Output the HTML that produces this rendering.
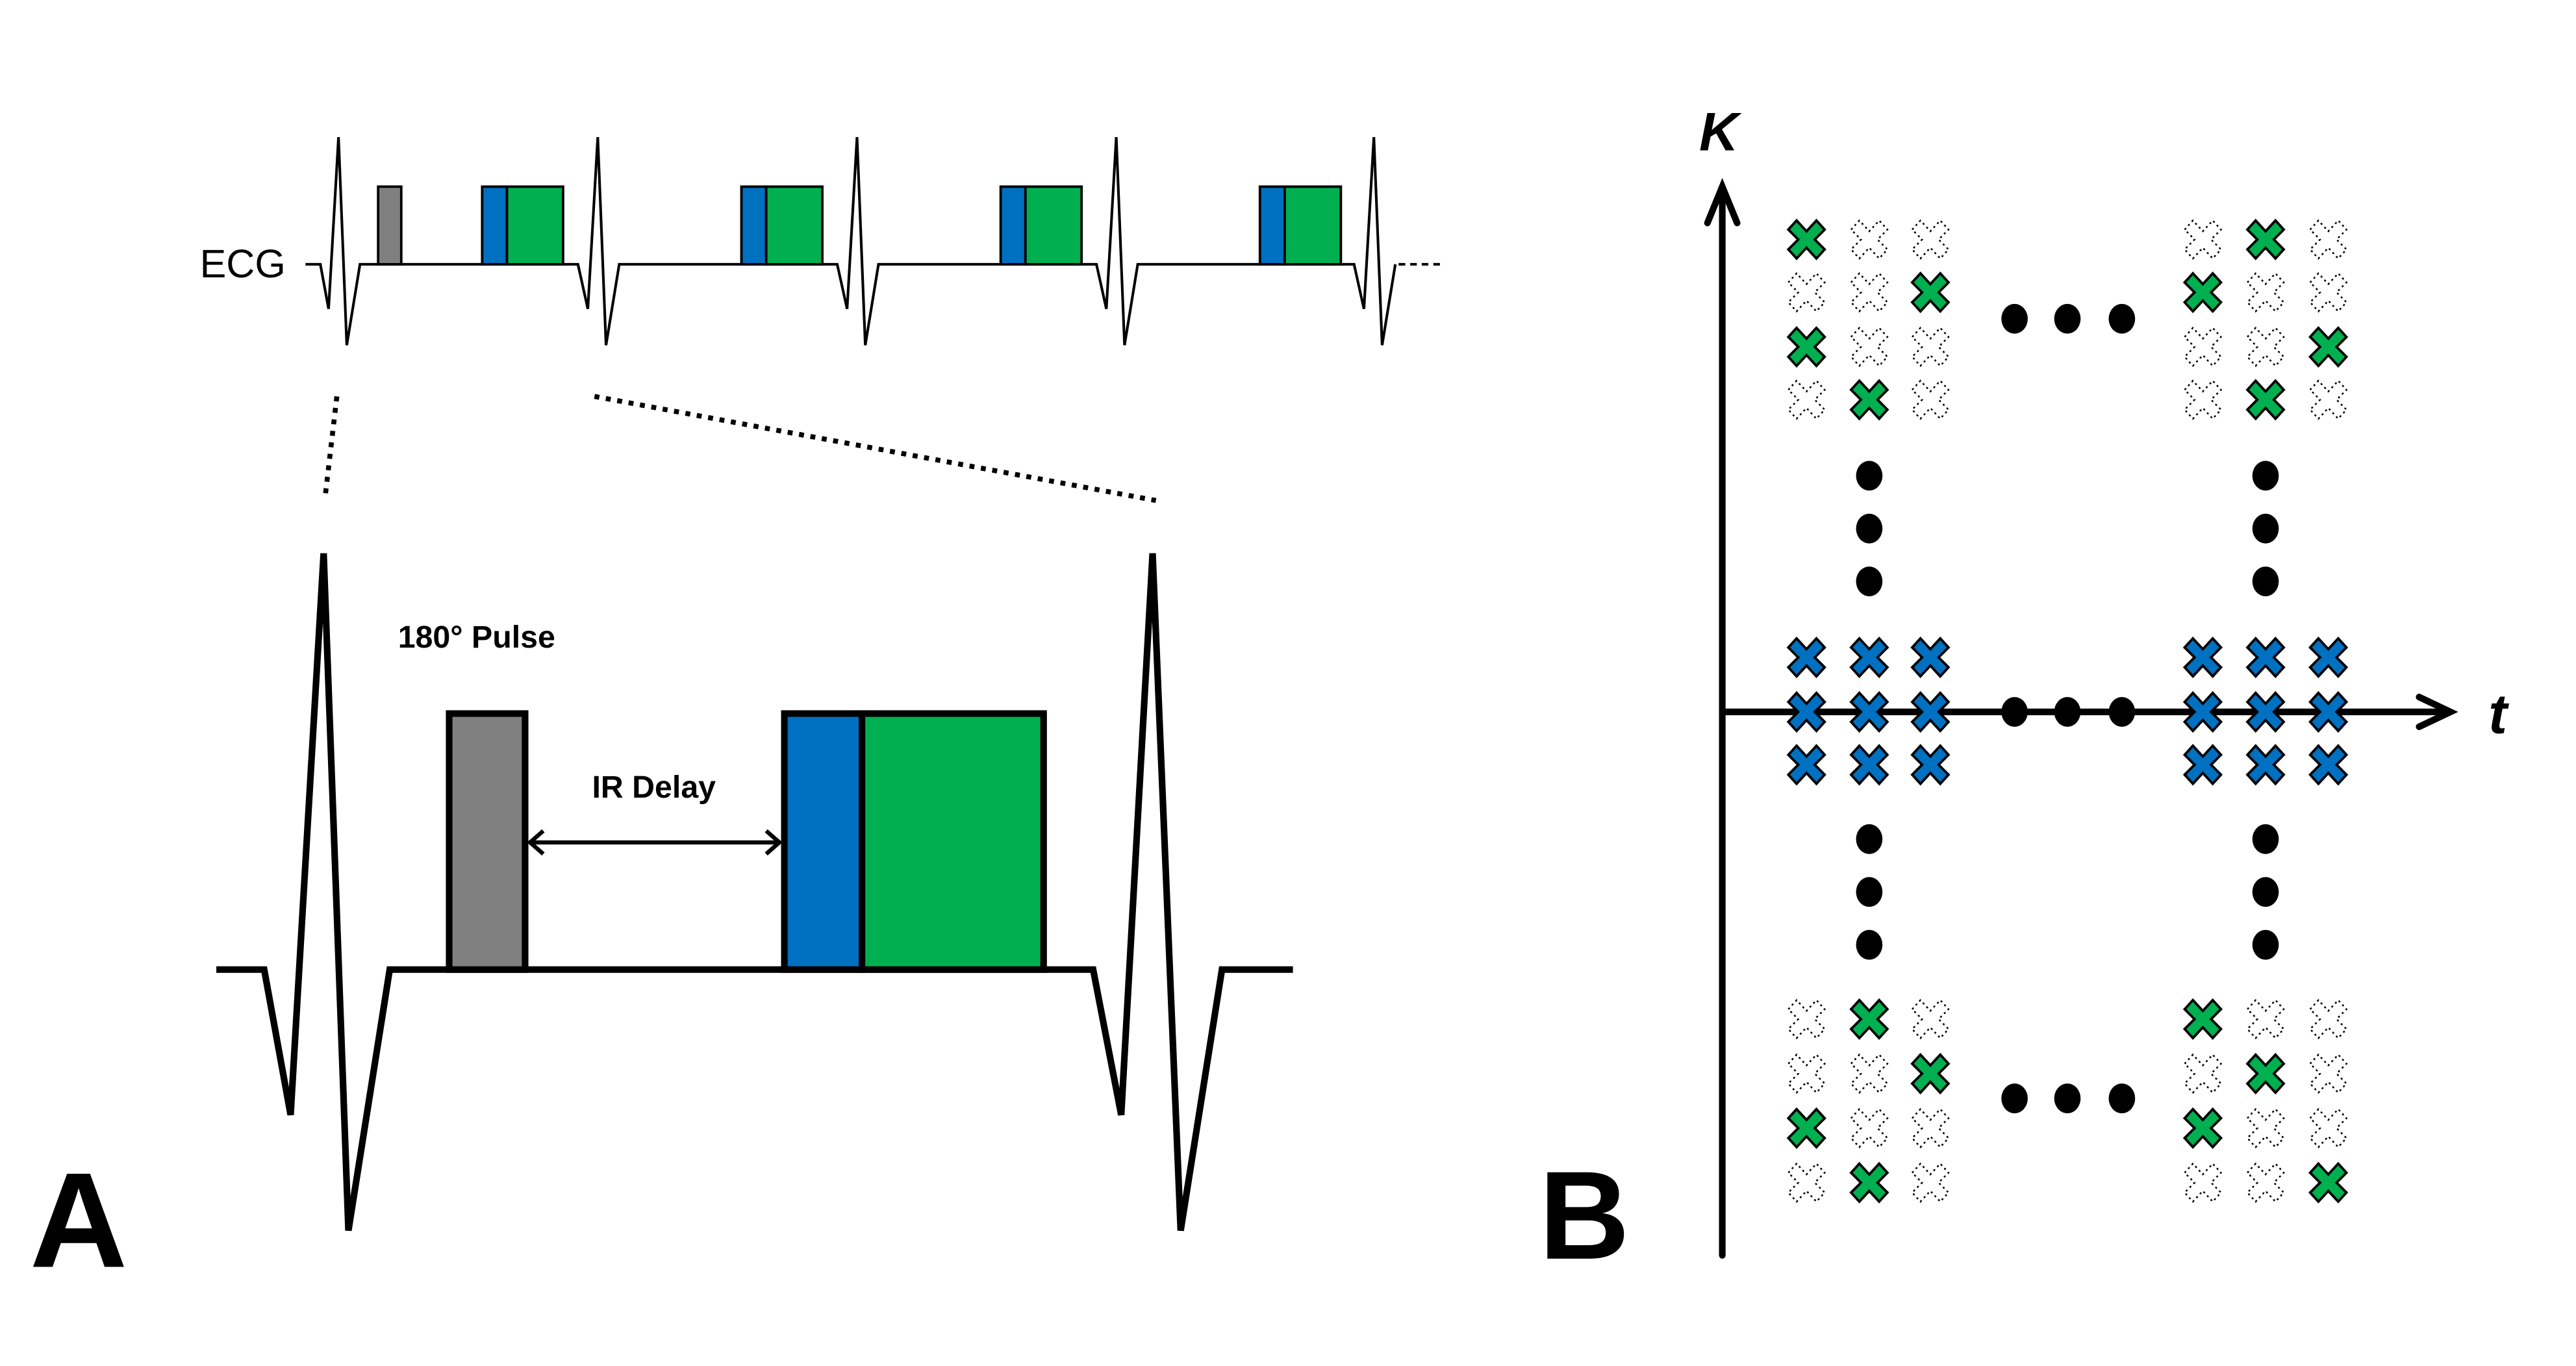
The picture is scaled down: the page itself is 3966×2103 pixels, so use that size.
<!DOCTYPE html>
<html><head><meta charset="utf-8"><style>html,body{margin:0;padding:0;background:#fff}svg{display:block}</style></head>
<body>
<svg width="3966" height="2103" viewBox="0 0 1560 827" preserveAspectRatio="none" xmlns="http://www.w3.org/2000/svg">
<defs>
<polygon id="x" points="-11,-6 -6,-11.5 0,-5 6,-11.5 11,-6 5,0 11,6 6,11.5 0,5 -6,11.5 -11,6 -5,0"/>
</defs>
<rect width="1560" height="827" fill="#fff"/>
<text x="121" y="168" font-family="Liberation Sans, sans-serif" font-size="24">ECG</text>
<g stroke="#000" stroke-width="1.6" fill="none">
<polyline points="185,160 194,160 199,187 205,83 210,209 218,160 350,160 356,187 362,83 367,209 375,160 507,160 513,187 519,83 524,209 532,160 664,160 670,187 676,83 681,209 689,160 820,160 826,187 832,83 837,209 845,160"/>
<line x1="847" y1="160" x2="873" y2="160" stroke-dasharray="4,3"/>
</g>
<g stroke="#000" stroke-width="1.5">
<rect x="229" y="113" width="14" height="47" fill="#808080"/>
<rect x="292" y="113" width="15" height="47" fill="#0070c0"/><rect x="307" y="113" width="34" height="47" fill="#00b050"/>
<rect x="449" y="113" width="15" height="47" fill="#0070c0"/><rect x="464" y="113" width="34" height="47" fill="#00b050"/>
<rect x="606" y="113" width="15" height="47" fill="#0070c0"/><rect x="621" y="113" width="34" height="47" fill="#00b050"/>
<rect x="763" y="113" width="15" height="47" fill="#0070c0"/><rect x="778" y="113" width="34" height="47" fill="#00b050"/>
</g>
<g stroke="#000" stroke-width="3" stroke-dasharray="3,4">
<line x1="204" y1="240" x2="197" y2="300"/>
<line x1="360" y1="240" x2="700" y2="303"/>
</g>
<polyline points="131,587 160,587 176,675 196,335 211,745 236,587 662,587 679,675 698,335 715,745 740,587 783,587" fill="none" stroke="#000" stroke-width="4"/>
<g stroke="#000" stroke-width="4">
<rect x="272" y="432" width="46" height="155" fill="#808080"/>
<rect x="475" y="432" width="47" height="155" fill="#0070c0"/>
<rect x="522" y="432" width="110" height="155" fill="#00b050"/>
</g>
<g stroke="#000" stroke-width="2.5" fill="none">
<line x1="321" y1="510" x2="472" y2="510"/>
<polyline points="329,503 321,510 329,517"/>
<polyline points="464,503 472,510 464,517"/>
</g>
<text x="241" y="392" font-family="Liberation Sans, sans-serif" font-size="19" font-weight="bold">180° Pulse</text>
<text x="396" y="483" text-anchor="middle" font-family="Liberation Sans, sans-serif" font-size="19" font-weight="bold">IR Delay</text>
<text x="18" y="767" font-family="Liberation Sans, sans-serif" font-size="82" font-weight="bold">A</text>
<text x="932" y="762" font-family="Liberation Sans, sans-serif" font-size="76" font-weight="bold">B</text>
<g stroke="#000" stroke-width="4" fill="none" stroke-linecap="round">
<line x1="1043" y1="760" x2="1043" y2="115"/>
<polyline points="1034,135 1043,113 1052,135"/>
<line x1="1043" y1="431" x2="1482" y2="431"/>
<polyline points="1465,422 1484,431 1465,440"/>
</g>
<text x="1029" y="91" font-family="Liberation Sans, sans-serif" font-size="33" font-weight="bold" font-style="italic">K</text>
<text x="1507" y="444" font-family="Liberation Sans, sans-serif" font-size="34" font-weight="bold" font-style="italic">t</text>
<g fill="#000">
<ellipse cx="1220" cy="193" rx="8" ry="9"/><ellipse cx="1252" cy="193" rx="8" ry="9"/><ellipse cx="1285" cy="193" rx="8" ry="9"/>
<ellipse cx="1220" cy="431" rx="8" ry="9"/><ellipse cx="1252" cy="431" rx="8" ry="9"/><ellipse cx="1285" cy="431" rx="8" ry="9"/>
<ellipse cx="1220" cy="665" rx="8" ry="9"/><ellipse cx="1252" cy="665" rx="8" ry="9"/><ellipse cx="1285" cy="665" rx="8" ry="9"/>
<ellipse cx="1132" cy="288" rx="8" ry="9"/><ellipse cx="1132" cy="320" rx="8" ry="9"/><ellipse cx="1132" cy="352" rx="8" ry="9"/>
<ellipse cx="1132" cy="508" rx="8" ry="9"/><ellipse cx="1132" cy="540" rx="8" ry="9"/><ellipse cx="1132" cy="572" rx="8" ry="9"/>
<ellipse cx="1372" cy="288" rx="8" ry="9"/><ellipse cx="1372" cy="320" rx="8" ry="9"/><ellipse cx="1372" cy="352" rx="8" ry="9"/>
<ellipse cx="1372" cy="508" rx="8" ry="9"/><ellipse cx="1372" cy="540" rx="8" ry="9"/><ellipse cx="1372" cy="572" rx="8" ry="9"/>
</g>
<g fill="#0070c0" stroke="#000" stroke-width="1.5">
<use href="#x" x="1094" y="398"/><use href="#x" x="1132" y="398"/><use href="#x" x="1169" y="398"/>
<use href="#x" x="1094" y="431"/><use href="#x" x="1132" y="431"/><use href="#x" x="1169" y="431"/>
<use href="#x" x="1094" y="463"/><use href="#x" x="1132" y="463"/><use href="#x" x="1169" y="463"/>
<use href="#x" x="1334" y="398"/><use href="#x" x="1372" y="398"/><use href="#x" x="1410" y="398"/>
<use href="#x" x="1334" y="431"/><use href="#x" x="1372" y="431"/><use href="#x" x="1410" y="431"/>
<use href="#x" x="1334" y="463"/><use href="#x" x="1372" y="463"/><use href="#x" x="1410" y="463"/>
</g>
<g fill="#00b050" stroke="#000" stroke-width="1.5">
<use href="#x" x="1094" y="145"/><use href="#x" x="1169" y="177"/><use href="#x" x="1094" y="210"/><use href="#x" x="1132" y="242"/>
<use href="#x" x="1372" y="145"/><use href="#x" x="1334" y="177"/><use href="#x" x="1410" y="210"/><use href="#x" x="1372" y="242"/>
<use href="#x" x="1132" y="617"/><use href="#x" x="1169" y="650"/><use href="#x" x="1094" y="683"/><use href="#x" x="1132" y="716"/>
<use href="#x" x="1334" y="617"/><use href="#x" x="1372" y="650"/><use href="#x" x="1334" y="683"/><use href="#x" x="1410" y="716"/>
</g>
<g fill="none" stroke="#000" stroke-width="1" stroke-dasharray="1.2,2">
<use href="#x" x="1132" y="145"/><use href="#x" x="1169" y="145"/>
<use href="#x" x="1094" y="177"/><use href="#x" x="1132" y="177"/>
<use href="#x" x="1132" y="210"/><use href="#x" x="1169" y="210"/>
<use href="#x" x="1094" y="242"/><use href="#x" x="1169" y="242"/>
<use href="#x" x="1334" y="145"/><use href="#x" x="1410" y="145"/>
<use href="#x" x="1372" y="177"/><use href="#x" x="1410" y="177"/>
<use href="#x" x="1334" y="210"/><use href="#x" x="1372" y="210"/>
<use href="#x" x="1334" y="242"/><use href="#x" x="1410" y="242"/>
<use href="#x" x="1094" y="617"/><use href="#x" x="1169" y="617"/>
<use href="#x" x="1094" y="650"/><use href="#x" x="1132" y="650"/>
<use href="#x" x="1132" y="683"/><use href="#x" x="1169" y="683"/>
<use href="#x" x="1094" y="716"/><use href="#x" x="1169" y="716"/>
<use href="#x" x="1372" y="617"/><use href="#x" x="1410" y="617"/>
<use href="#x" x="1334" y="650"/><use href="#x" x="1410" y="650"/>
<use href="#x" x="1372" y="683"/><use href="#x" x="1410" y="683"/>
<use href="#x" x="1334" y="716"/><use href="#x" x="1372" y="716"/>
</g>
</svg>
</body></html>
